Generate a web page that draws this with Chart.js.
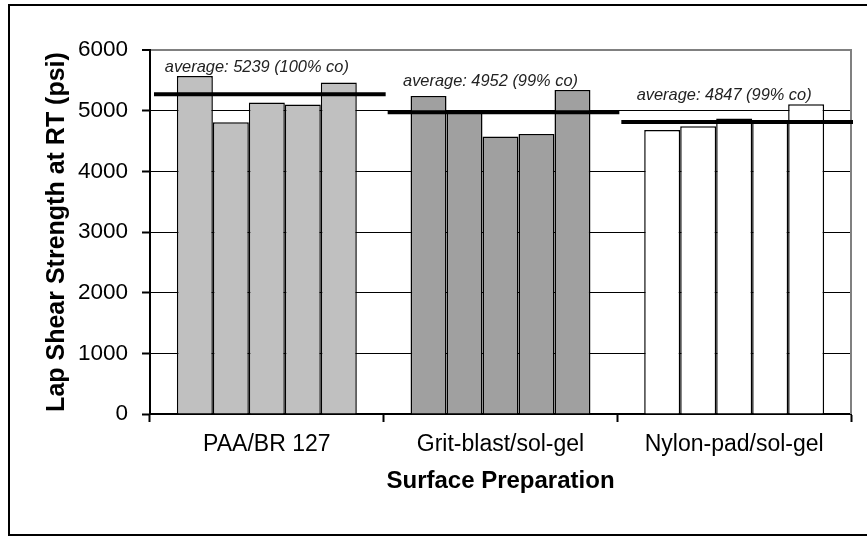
<!DOCTYPE html>
<html>
<head>
<meta charset="utf-8">
<script src="https://cdn.jsdelivr.net/npm/chart.js@4.4.0/dist/chart.umd.min.js"></script>
<style>
  html, body { margin: 0; padding: 0; background: #fff; }
  #wrap { width: 867px; height: 537px; position: relative; }
</style>
</head>
<body>
<div id="wrap"><canvas id="lapChart"></canvas></div>
<script>
// surface preparations and the five specimens tested for each
const categories = ['PAA/BR 127', 'Grit-blast/sol-gel', 'Nylon-pad/sol-gel'];
const paaBr127 = [5570, 4810, 5135, 5100, 5465];
const gritBlast = [5240, 4985, 4575, 4615, 5340];
const nylonPad = [4680, 4745, 4870, 4830, 5105];
const averages = [5270, 4975, 4815];
const averageLabels = ['average: 5239 (100% co)', 'average: 4952 (99% co)', 'average: 4847 (99% co)'];
const yTicks = [0, 1000, 2000, 3000, 4000, 5000, 6000];

const groups = [paaBr127, gritBlast, nylonPad];
const groupColors = ['#c0c0c0', '#a0a0a0', '#ffffff'];
const fontFamily = '"Liberation Sans", Arial, sans-serif';

const datasets = paaBr127.map((_, j) => ({
    label: 'Specimen ' + (j + 1),
    data: groups.map(g => g[j]),
    backgroundColor: groupColors,
    borderColor: '#000',
    borderWidth: 1.5,
    borderSkipped: 'start',
    categoryPercentage: 0.77,
    barPercentage: 1.0
}));

// outer frame + gray plot border on the right
const framePlugin = {
    id: 'frame',
    beforeDatasetsDraw(chart) {
        const { ctx, chartArea } = chart;
        ctx.save();
        ctx.strokeStyle = '#808080';
        ctx.lineWidth = 2;
        ctx.beginPath();
        ctx.moveTo(chartArea.right, chartArea.top - 1);
        ctx.lineTo(chartArea.right, chartArea.bottom);
        ctx.stroke();
        ctx.restore();
    },
    afterDraw(chart) {
        const ctx = chart.ctx;
        ctx.save();
        ctx.strokeStyle = '#000';
        ctx.lineWidth = 2;
        ctx.strokeRect(9, 5, 900, 530);
        ctx.restore();
    }
};

// thick average line across each group, with its caption above the tallest bar
const averagePlugin = {
    id: 'averageLines',
    afterDatasetsDraw(chart) {
        const { ctx, scales: { x, y } } = chart;
        const half = (x.getPixelForValue(1) - x.getPixelForValue(0)) / 2;
        ctx.save();
        averages.forEach((avg, i) => {
            const cx = x.getPixelForValue(i);
            const py = y.getPixelForValue(avg);
            ctx.strokeStyle = '#000';
            ctx.lineWidth = 4;
            ctx.beginPath();
            ctx.moveTo(cx - half + 4, py);
            ctx.lineTo(cx + half + 2, py);
            ctx.stroke();

            const topY = y.getPixelForValue(Math.max(...groups[i]));
            ctx.fillStyle = '#222';
            ctx.font = 'italic 16.4px ' + fontFamily;
            ctx.textAlign = 'center';
            ctx.textBaseline = 'middle';
            ctx.fillText(averageLabels[i], cx - 10, topY - 9);
        });
        ctx.restore();
    }
};

new Chart(document.getElementById('lapChart'), {
    type: 'bar',
    data: { labels: categories, datasets },
    options: {
        responsive: true,
        maintainAspectRatio: false,
        animation: false,
        layout: { padding: { top: 50, right: 16, bottom: 0, left: 0 } },
        plugins: {
            legend: { display: false },
            tooltip: { enabled: false }
        },
        scales: {
            x: {
                afterFit: s => { s.height = 123; },
                grid: {
                    offset: true,
                    drawOnChartArea: false,
                    tickLength: 8,
                    tickColor: '#000',
                    tickWidth: 2
                },
                border: { color: '#000', width: 2 },
                ticks: { color: '#000', padding: 9, font: { family: fontFamily, size: 23 } },
                title: {
                    display: true,
                    text: 'Surface Preparation',
                    color: '#000',
                    font: { family: fontFamily, size: 24, weight: 'bold' },
                    padding: { top: 0, bottom: 41 }
                }
            },
            y: {
                min: yTicks[0],
                max: yTicks[yTicks.length - 1],
                afterFit: s => { s.width = 150; },
                afterBuildTicks: s => { s.ticks = yTicks.map(v => ({ value: v })); },
                grid: {
                    color: c => c.tick && c.tick.value === 6000 ? '#808080' : '#000',
                    lineWidth: c => c.tick && c.tick.value === 6000 ? 2 : 1,
                    tickLength: 8,
                    tickColor: '#000',
                    tickWidth: 2
                },
                border: { color: '#000', width: 2 },
                ticks: {
                    color: '#000',
                    padding: 14,
                    font: { family: fontFamily, size: 22.5 },
                    callback: v => String(v)
                },
                title: {
                    display: true,
                    text: 'Lap Shear Strength at RT (psi)',
                    color: '#000',
                    font: { family: fontFamily, size: 25, weight: 'bold' },
                    padding: { top: 42, bottom: 0 }
                }
            }
        }
    },
    plugins: [framePlugin, averagePlugin]
});
</script>
</body>
</html>
